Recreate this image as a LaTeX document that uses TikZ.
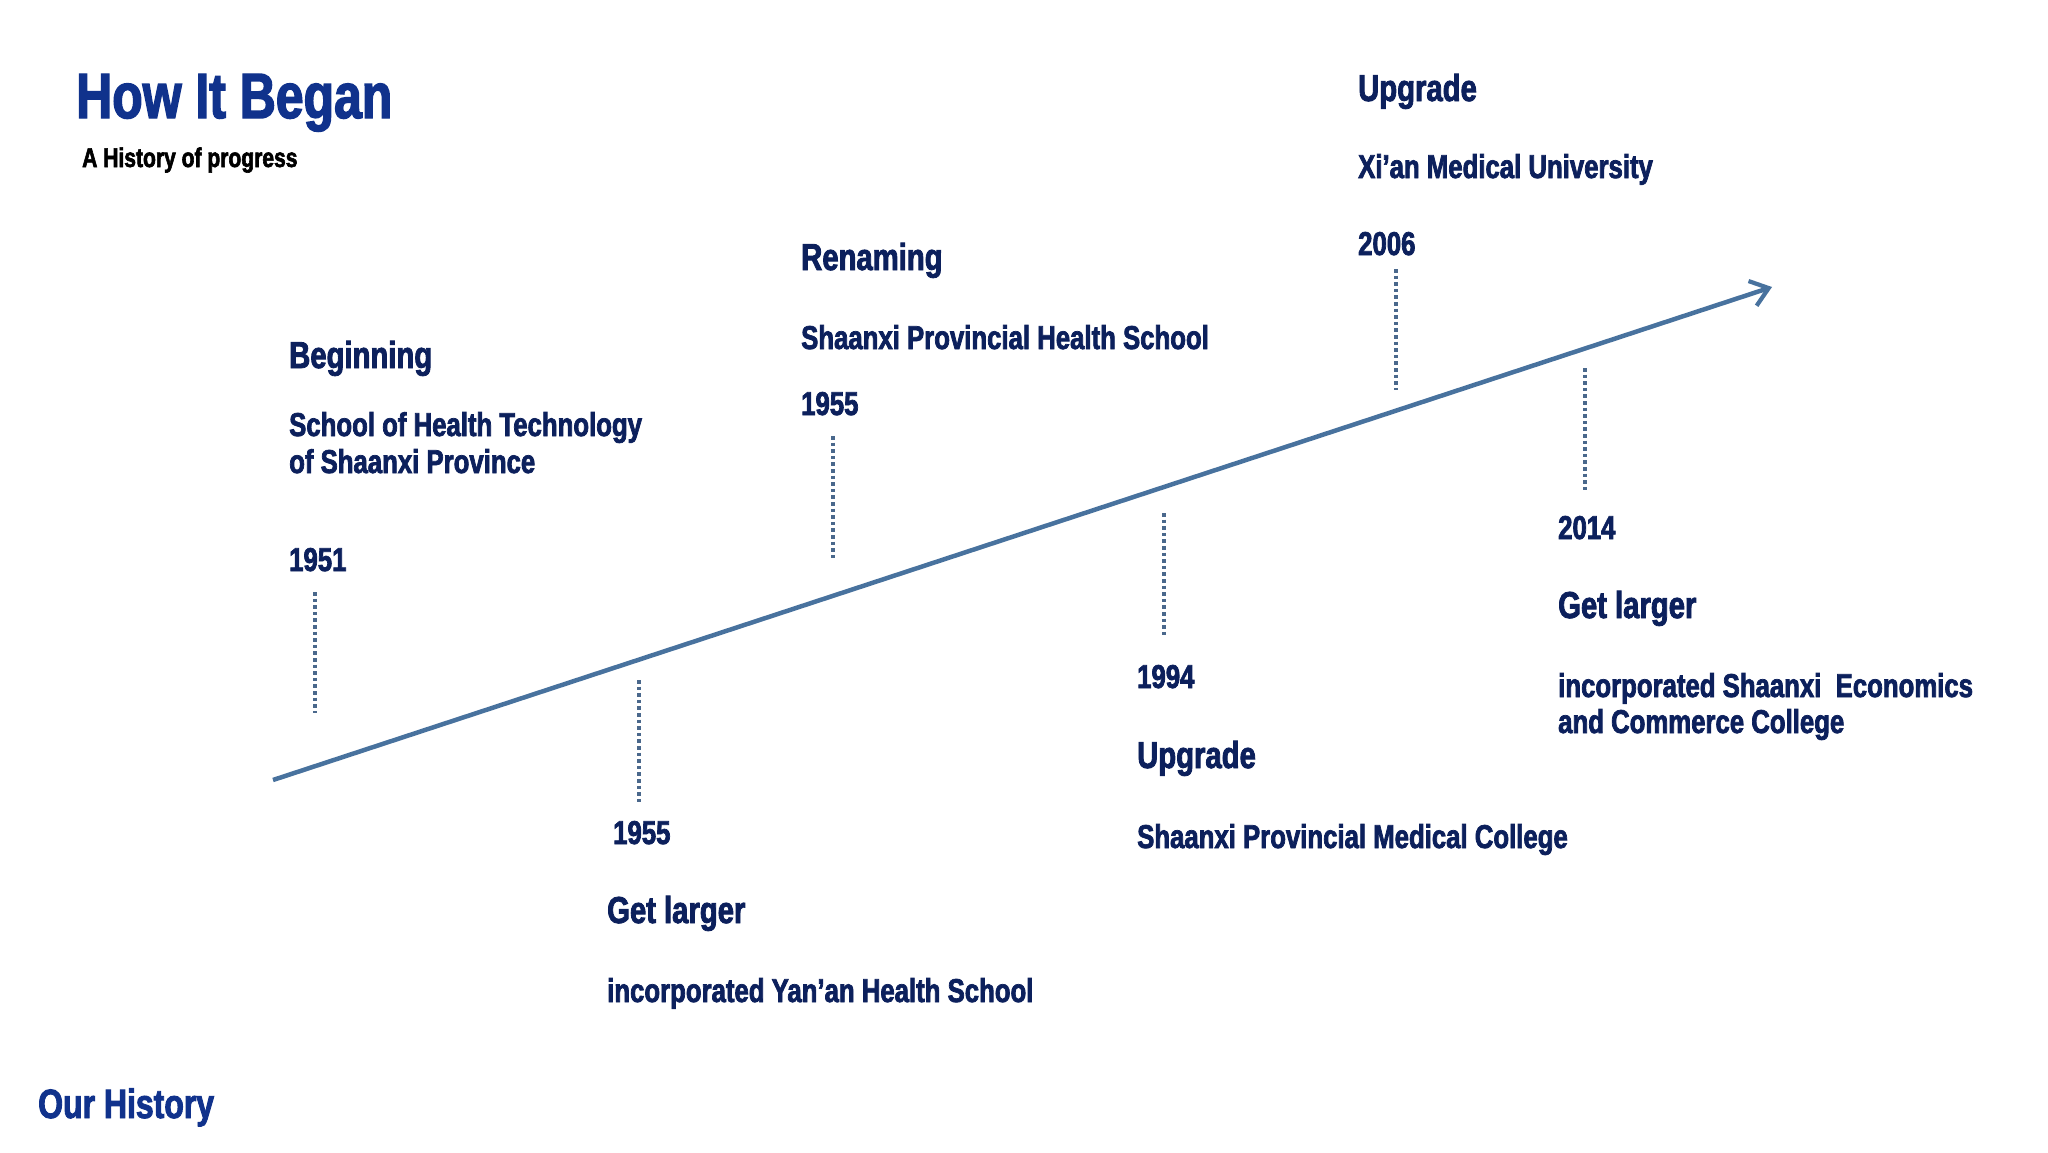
\documentclass[tikz,border=0pt]{standalone}
\usepackage{fontspec}
\usetikzlibrary{arrows.meta}
\newfontfamily\imp[FakeStretch=0.78,FakeBold=2.2]{Liberation Sans Bold}
\definecolor{navy}{RGB}{12,32,92}
\definecolor{titleblue}{RGB}{16,50,140}
\definecolor{lineblue}{RGB}{72,114,158}
\definecolor{dotblue}{RGB}{74,104,140}
\tikzset{
  txt/.style={anchor=base west, inner sep=0pt, text=navy, font=\imp\fontsize{33}{36}\selectfont},
  head/.style={txt, font=\imp\fontsize{37.5}{40}\selectfont},
  ttl/.style={anchor=base west, inner sep=0pt, text=titleblue, font=\imp\fontsize{64}{70}\selectfont},
  sub/.style={anchor=base west, inner sep=0pt, text=black, font=\imp\fontsize{27}{29}\selectfont},
  foot/.style={anchor=base west, inner sep=0pt, text=titleblue, font=\imp\fontsize{41}{45}\selectfont},
  tick/.style={draw=dotblue, line width=3.6pt, dash pattern=on 3.6pt off 3pt},
  axis/.style={draw=lineblue, line width=4.5pt, -{Straight Barb[length=17pt,width=26pt,line width=4.2pt]}}
}
\begin{document}
\begin{tikzpicture}[x=1pt,y=-1pt]
\useasboundingbox (0,0) rectangle (2048,1152);
% titles
\node[ttl] (title) at (76,118) {How It Began};
\node[sub] (subtitle) at (82,167) {A History of progress};
\node[foot] (footer) at (38,1118) {Our History};
% axis
\coordinate (axs) at (273,780);
\coordinate (axe) at (1772,287);
\draw[axis] (axs) -- (axe);
% 1951
\node[head] (h1) at (289,368) {Beginning};
\node[txt] (t1a) at (289,436) {School of Health Technology};
\node[txt] (t1b) at (289,473) {of Shaanxi Province};
\node[txt] (y1) at (289,571) {1951};
\coordinate (d1a) at (315,592); \coordinate (d1b) at (315,713);
\draw[tick] (d1a) -- (d1b);
% 1955 lower
\coordinate (d2a) at (639,680); \coordinate (d2b) at (639,802);
\draw[tick] (d2a) -- (d2b);
\node[txt] (y2) at (613,844) {1955};
\node[head] (h2) at (607,923) {Get larger};
\node[txt] (t2) at (607,1002) {incorporated Yan’an Health School};
% 1955 upper
\node[head] (h3) at (801,270) {Renaming};
\node[txt] (t3) at (801,349) {Shaanxi Provincial Health School};
\node[txt] (y3) at (801,415) {1955};
\coordinate (d3a) at (833,436); \coordinate (d3b) at (833,558);
\draw[tick] (d3a) -- (d3b);
% 1994
\coordinate (d4a) at (1164,513); \coordinate (d4b) at (1164,635);
\draw[tick] (d4a) -- (d4b);
\node[txt] (y4) at (1137,688) {1994};
\node[head] (h4) at (1137,768) {Upgrade};
\node[txt] (t4) at (1137,848) {Shaanxi Provincial Medical College};
% 2006
\node[head] (h5) at (1358,101) {Upgrade};
\node[txt] (t5) at (1358,178) {Xi’an Medical University};
\node[txt] (y5) at (1358,255) {2006};
\coordinate (d5a) at (1396,269); \coordinate (d5b) at (1396,390);
\draw[tick] (d5a) -- (d5b);
% 2014
\coordinate (d6a) at (1585,368); \coordinate (d6b) at (1585,490);
\draw[tick] (d6a) -- (d6b);
\node[txt] (y6) at (1558,539) {2014};
\node[head] (h6) at (1558,618) {Get larger};
\node[txt] (t6a) at (1558,697) {incorporated Shaanxi\ \ Economics};
\node[txt] (t6b) at (1558,733) {and Commerce College};
\end{tikzpicture}
\end{document}
